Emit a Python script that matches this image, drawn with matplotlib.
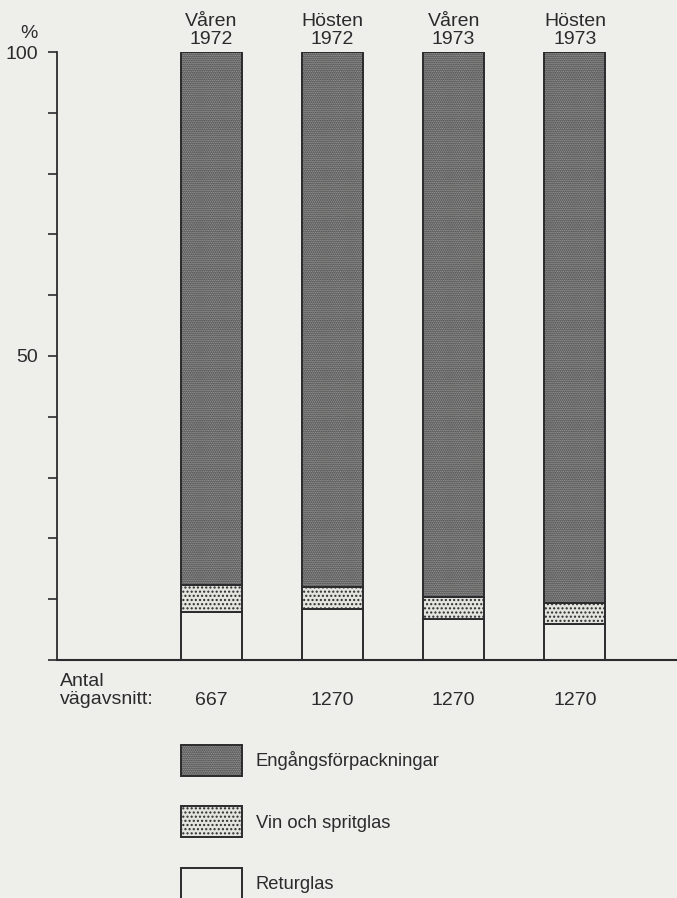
import matplotlib
matplotlib.use("Agg")
import matplotlib.pyplot as plt
import numpy as np

periods = ["Våren\n1972", "Hösten\n1972", "Våren\n1973", "Hösten\n1973"]
antal = ["667", "1270", "1270", "1270"]
returglas = [7.9, 8.4, 6.7, 6.0]
vin = [4.5, 3.6, 3.6, 3.4]
engangs = [87.6, 88.0, 89.7, 90.6]
legend_labels = ["Engångsförpackningar", "Vin och spritglas", "Returglas"]

bg = "#eeefea"
ink = "#2b2b2e"
plt.rcParams["font.family"] = ["Liberation Sans", "DejaVu Sans"]
plt.rcParams["hatch.linewidth"] = 1.0

fig = plt.figure(figsize=(6.77, 8.98), dpi=100, facecolor=bg)
ax = fig.add_axes([57 / 677, 238 / 898, 620 / 677, 608 / 898])
ax.set_facecolor(bg)

x = np.arange(len(periods))
w = 0.503
b1 = ax.bar(x, returglas, w, color=bg, edgecolor=ink, linewidth=1.4)
b2 = ax.bar(x, vin, w, bottom=returglas, color="#e4e4df", edgecolor=ink,
            linewidth=1.4, hatch="....")
bottom3 = np.array(returglas) + np.array(vin)
b3 = ax.bar(x, engangs, w, bottom=bottom3, color="#acacaa", edgecolor=ink,
            linewidth=1.4, hatch="........")

ax.set_xlim(-1.27, 3.842)
ax.set_ylim(0, 100)
for s in ["top", "right"]:
    ax.spines[s].set_visible(False)
ax.spines["left"].set_color(ink)
ax.spines["bottom"].set_color(ink)
ax.spines["left"].set_linewidth(1.3)
ax.spines["bottom"].set_linewidth(1.5)
ax.set_xticks([])
ax.set_yticks(np.arange(0, 101, 10))
ax.set_yticklabels(["" if v not in (50, 100) else str(v) for v in range(0, 101, 10)])
ax.tick_params(axis="y", direction="out", length=6.5, width=1.2, color=ink,
               labelcolor=ink, labelsize=14, pad=7)

ax.annotate("%", xy=(0, 100), xycoords=("axes fraction", "data"),
            xytext=(-20, 7), textcoords="offset points", ha="center",
            va="bottom", fontsize=14, color=ink)

for xi, lab in zip(x, periods):
    ax.annotate(lab, xy=(xi, 100), xytext=(0, 3), textcoords="offset points",
                ha="center", va="bottom", fontsize=14, color=ink,
                linespacing=1.05)

for xi, n in zip(x, antal):
    ax.annotate(n, xy=(xi, 0), xytext=(0, -29), textcoords="offset points",
                ha="center", va="center", fontsize=14, color=ink)

ax.annotate("Antal\nvägavsnitt:", xy=(0, 0), xycoords="axes fraction",
            xytext=(2, -22), textcoords="offset points", ha="left",
            va="center", fontsize=14, color=ink, linespacing=1.05)

fig.legend([b3, b2, b1], legend_labels, loc="upper left",
           bbox_to_anchor=(181 / 677, 1 - 745 / 898), frameon=False,
           borderpad=0, borderaxespad=0, handlelength=3.33, handleheight=2.23,
           labelspacing=1.65, handletextpad=0.75, fontsize=13.2,
           labelcolor=ink)

fig.savefig("out.png", dpi=100, facecolor=bg)
